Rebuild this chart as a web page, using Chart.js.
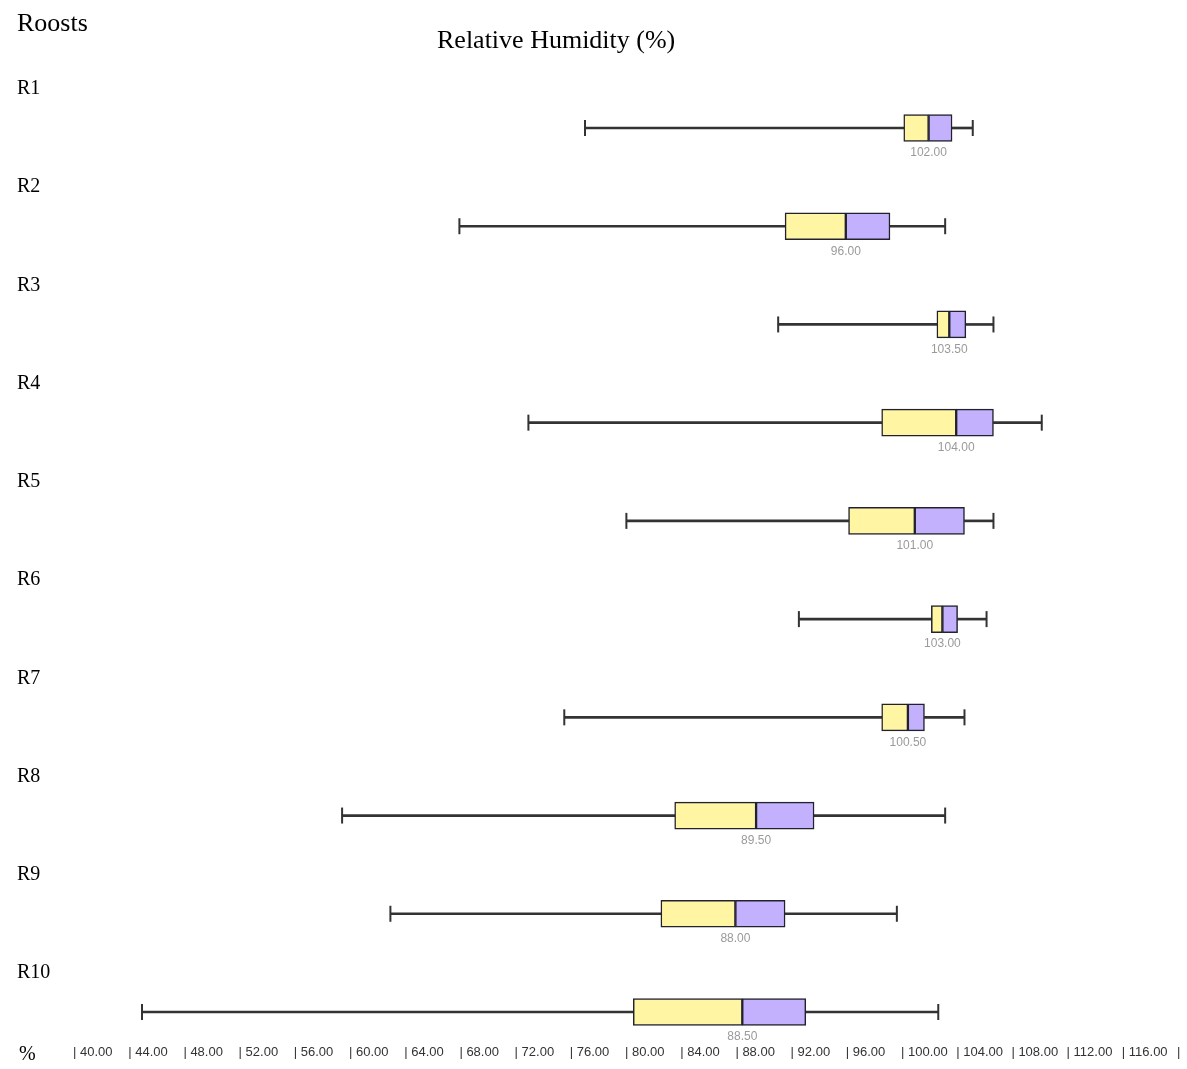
<!DOCTYPE html>
<html>
<head>
<meta charset="utf-8">
<script src="https://cdn.jsdelivr.net/npm/chart.js@4.4.1/dist/chart.umd.min.js"></script>
<style>
  body { margin: 0; background: #fff; }
  #wrap { width: 1187px; height: 1069px; position: relative; }
</style>
</head>
<body>
<div id="wrap"><canvas id="chart"></canvas></div>
<script>
// roost labels and box plot values (relative humidity %)
var roosts = ['R1', 'R2', 'R3', 'R4', 'R5', 'R6', 'R7', 'R8', 'R9', 'R10'];
var whiskerMin = [77.1, 68.0, 91.1, 73.0, 80.1, 92.6, 75.6, 59.5, 63.0, 45.0];
var q1 = [100.2, 91.6, 102.6, 98.6, 96.2, 102.2, 98.6, 83.6, 82.6, 80.6];
var median = [102, 96, 103.5, 104, 101, 103, 100.5, 89.5, 88, 88.5];
var q3 = [103.7, 99.2, 104.7, 106.7, 104.6, 104.1, 101.7, 93.7, 91.6, 93.1];
var whiskerMax = [105.2, 103.2, 106.7, 110.2, 106.7, 106.2, 104.6, 103.2, 99.7, 102.7];
var xTicks = [40, 44, 48, 52, 56, 60, 64, 68, 72, 76, 80, 84, 88, 92, 96, 100, 104, 108, 112, 116, 120];

function range(a, b) {
    return a.map(function (v, i) { return [v, b[i]]; });
}
function caps(vals) {
    return vals.map(function (v, i) { return { x: v, y: roosts[i] }; });
}

var textPlugin = {
    id: 'texts',
    afterDatasetsDraw: function (chart) {
        var ctx = chart.ctx;
        var xs = chart.scales.x, ys = chart.scales.y;
        ctx.save();
        // median values under each box
        ctx.fillStyle = '#9a9a9a';
        ctx.font = '12px "Liberation Sans", Arial, sans-serif';
        ctx.textAlign = 'center';
        ctx.textBaseline = 'middle';
        median.forEach(function (m, i) {
            ctx.fillText(m.toFixed(2), xs.getPixelForValue(m), ys.getPixelForValue(i) + 25);
        });
        // headings
        ctx.fillStyle = '#000';
        ctx.textAlign = 'left';
        ctx.font = '26px "Liberation Serif", "Times New Roman", serif';
        ctx.fillText('Roosts', 17, 24);
        ctx.font = '26px "Liberation Serif", "Times New Roman", serif';
        ctx.fillText('Relative Humidity (%)', 437, 41);
        ctx.font = '20px "Liberation Serif", "Times New Roman", serif';
        ctx.fillText('%', 19, 1055);
        ctx.restore();
    }
};

var ctx = document.getElementById('chart');
new Chart(ctx, {
    type: 'bar',
    data: {
        labels: roosts,
        datasets: [
            {
                label: 'Q1-median',
                data: range(q1, median),
                backgroundColor: '#fff5a3',
                borderColor: '#22222e',
                borderWidth: 1.5,
                borderSkipped: false,
                barThickness: 27,
                grouped: false,
                clip: false,
                order: 1
            },
            {
                label: 'median-Q3',
                data: range(median, q3),
                backgroundColor: '#c4b1fd',
                borderColor: '#22222e',
                borderWidth: 1.5,
                borderSkipped: false,
                barThickness: 27,
                grouped: false,
                clip: false,
                order: 1
            },
            {
                label: 'lower whisker',
                data: range(whiskerMin, q1),
                backgroundColor: '#333',
                borderWidth: 0,
                barThickness: 2,
                grouped: false,
                clip: false,
                order: 2
            },
            {
                label: 'upper whisker',
                data: range(q3, whiskerMax),
                backgroundColor: '#333',
                borderWidth: 0,
                barThickness: 2,
                grouped: false,
                clip: false,
                order: 2
            },
            {
                type: 'scatter',
                label: 'caps',
                data: caps(whiskerMin).concat(caps(whiskerMax)),
                pointStyle: 'line',
                rotation: 90,
                radius: 8,
                borderColor: '#333',
                borderWidth: 2,
                clip: false,
                order: 0
            }
        ]
    },
    options: {
        indexAxis: 'y',
        responsive: true,
        maintainAspectRatio: false,
        animation: false,
        layout: { padding: { top: 128, left: 17, right: 8, bottom: 8 } },
        plugins: {
            legend: { display: false },
            tooltip: { enabled: false }
        },
        scales: {
            x: {
                type: 'linear',
                min: 40,
                max: 120,
                afterBuildTicks: function (scale) {
                    scale.ticks = xTicks.map(function (v) { return { value: v }; });
                },
                afterFit: function (scale) {
                    scale.height = 49;
                    scale.paddingLeft = 0;
                    scale.paddingRight = 0;
                },
                grid: { display: false, drawTicks: false },
                border: { display: false },
                ticks: {
                    align: 'start',
                    autoSkip: false,
                    maxRotation: 0,
                    padding: 33,
                    color: '#333',
                    font: { family: '"Liberation Sans", Arial, sans-serif', size: 13 },
                    callback: function (v) {
                        return v === 120 ? '|' : '| ' + Number(v).toFixed(2);
                    }
                }
            },
            y: {
                type: 'category',
                offset: false,
                grid: { display: false, drawTicks: false },
                border: { display: false },
                afterFit: function (scale) {
                    scale.width = 56;
                    scale.paddingTop = 0;
                    scale.paddingBottom = 0;
                },
                ticks: {
                    crossAlign: 'far',
                    labelOffset: -39,
                    padding: 0,
                    color: '#000',
                    font: { family: '"Liberation Serif", "Times New Roman", serif', size: 20 }
                }
            }
        }
    },
    plugins: [textPlugin]
});
</script>
</body>
</html>
